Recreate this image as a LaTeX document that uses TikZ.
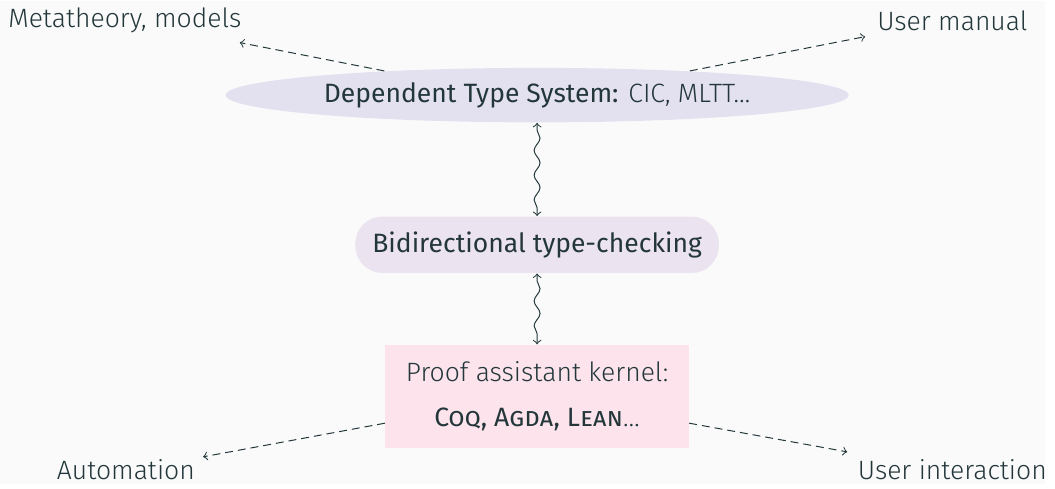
\documentclass[tikz,border=0pt]{standalone}
\usepackage{fontspec}
\setmainfont{Fira Sans}[UprightFont=* Light, BoldFont=*]
\usetikzlibrary{shapes.geometric,decorations.pathmorphing}
\definecolor{fgdark}{HTML}{23373B}
\definecolor{bgpale}{HTML}{FAFAFA}
\definecolor{lavender}{HTML}{E3E1F0}
\definecolor{lilac}{HTML}{ECE3F0}
\definecolor{rosepale}{HTML}{FDE4EC}

\begin{document}
\begin{tikzpicture}[x=0.4pt,y=-0.4pt,
		every node/.style={text=fgdark,font=\fontsize{10.7}{14}\selectfont},
		link/.style={draw=fgdark,dash pattern=on 3.2pt off 2pt,->},
		wiggle/.style={draw=fgdark,<->,decorate,
			decoration={snake,amplitude=1.2pt,segment length=10pt,pre length=3pt,post length=3pt}}]
		\fill[bgpale] (0,0) rectangle (1055,487);
		% the three layers
		\node[ellipse,fill=lavender,minimum width=251.6pt,minimum height=22pt,inner sep=0pt]
			(sys) at (542,95) {\textbf{Dependent Type System:} CIC, MLTT\dots};
		\node[rectangle,rounded corners=11pt,fill=lilac,minimum width=146.8pt,minimum height=22.8pt]
			(bidi) at (542,246) {\textbf{Bidirectional type-checking}};
		\node[rectangle,fill=rosepale,minimum width=122.4pt,minimum height=41.6pt,align=center]
			(kernel) at (542,399) {Proof assistant kernel:\\[4pt]\textbf{\textsc{Coq, Agda, Lean}}\dots};
		% outer labels
		\node (meta) at (126,20) {Metatheory, models};
		\node (manual) at (961,20) {User manual};
		\node (auto) at (127,473) {Automation};
		\node (inter) at (961,473) {User interaction};
		\coordinate (metaend) at (242,42);
		\coordinate (manualend) at (873,36);
		\coordinate (autoend) at (205,460);
		\coordinate (interend) at (855,455);
		\draw[link] (sys.171) -- (metaend);
		\draw[link] (sys.9) -- (manualend);
		\draw[link] (kernel.190) -- (autoend);
		\draw[link] (kernel.350) -- (interend);
		\draw[wiggle] (sys.south) -- (bidi.north);
		\draw[wiggle] (bidi.south) -- (kernel.north);
\end{tikzpicture}
\end{document}
